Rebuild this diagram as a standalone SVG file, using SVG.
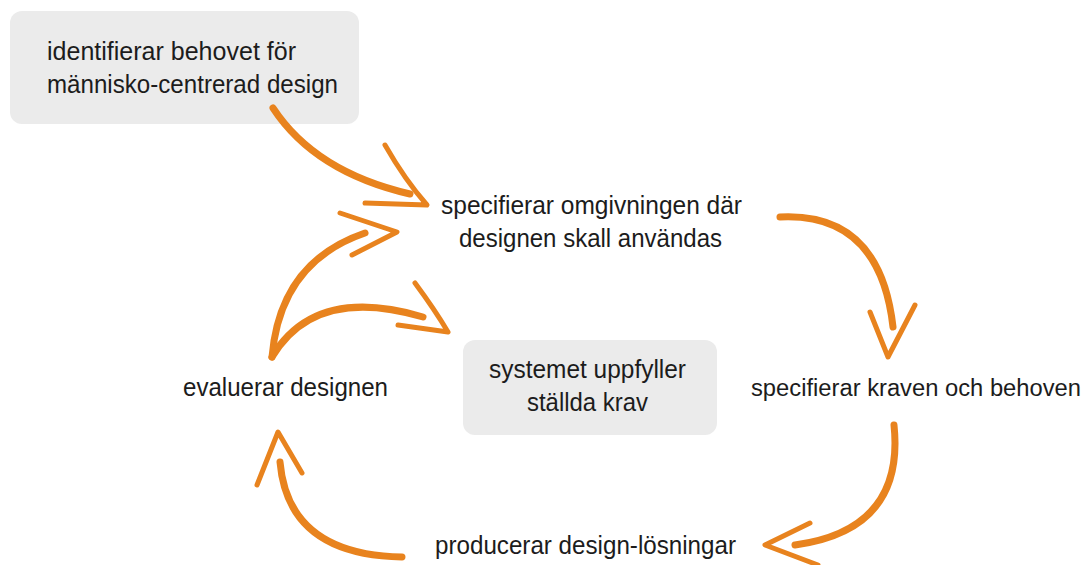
<svg xmlns="http://www.w3.org/2000/svg" width="1091" height="565" viewBox="0 0 1091 565">
<style>
.box{fill:#ebebeb}
.t{font-family:"Liberation Sans",Arial,sans-serif;font-size:25px;fill:#1c1c1c}
.shaft{fill:none;stroke:#e8831e;stroke-width:7;stroke-linecap:round;stroke-linejoin:round}
.head{fill:none;stroke:#e8831e;stroke-width:5;stroke-linecap:round;stroke-linejoin:round}
</style>
<rect width="1091" height="565" fill="#fff"/>
<g id="n-identify">
<rect class="box" x="10" y="11" width="349" height="113" rx="12"/>
<text class="t" x="47" y="60" textLength="249" lengthAdjust="spacingAndGlyphs">identifierar behovet för</text>
<text class="t" x="47" y="93" textLength="291" lengthAdjust="spacingAndGlyphs">människo-centrerad design</text>
</g>
<g id="n-context">
<text class="t" x="441" y="214" textLength="301" lengthAdjust="spacingAndGlyphs">specifierar omgivningen där</text>
<text class="t" x="459" y="247" textLength="263" lengthAdjust="spacingAndGlyphs">designen skall användas</text>
</g>
<g id="n-evaluate">
<text class="t" x="183" y="396" textLength="205" lengthAdjust="spacingAndGlyphs">evaluerar designen</text>
</g>
<g id="n-done">
<rect class="box" x="463" y="340" width="254" height="95" rx="12"/>
<text class="t" x="489" y="378" textLength="197" lengthAdjust="spacingAndGlyphs">systemet uppfyller</text>
<text class="t" x="527" y="411" textLength="121" lengthAdjust="spacingAndGlyphs">ställda krav</text>
</g>
<g id="n-requirements">
<text class="t" x="751" y="396" font-size="23" style="font-size:23px" textLength="330" lengthAdjust="spacingAndGlyphs">specifierar kraven och behoven</text>
</g>
<g id="n-produce">
<text class="t" x="435" y="554" textLength="301" lengthAdjust="spacingAndGlyphs">producerar design-lösningar</text>
</g>
<g id="connectors">
<path class="shaft" d="M273,108 Q315,172 410,194"/>
<path class="head" d="M385,145 Q405,180 427,205 L365,203"/>
<path class="shaft" d="M272,357 Q280,262 365,233"/>
<path class="head" d="M340,213 L397,232 L352,255"/>
<path class="shaft" d="M272,357 Q315,285 423,317"/>
<path class="head" d="M415,283 Q435,310 448,332 L398,325"/>
<path class="shaft" d="M780,217 Q880,212 893,327"/>
<path class="head" d="M870,312 L888,357 L915,305"/>
<path class="shaft" d="M894,425 Q905,530 795,545"/>
<path class="head" d="M810,523 L765,545 L818,565"/>
<path class="shaft" d="M402,557 Q288,555 280,462"/>
<path class="head" d="M257,485 L278,432 L302,473"/>
</g>
</svg>
